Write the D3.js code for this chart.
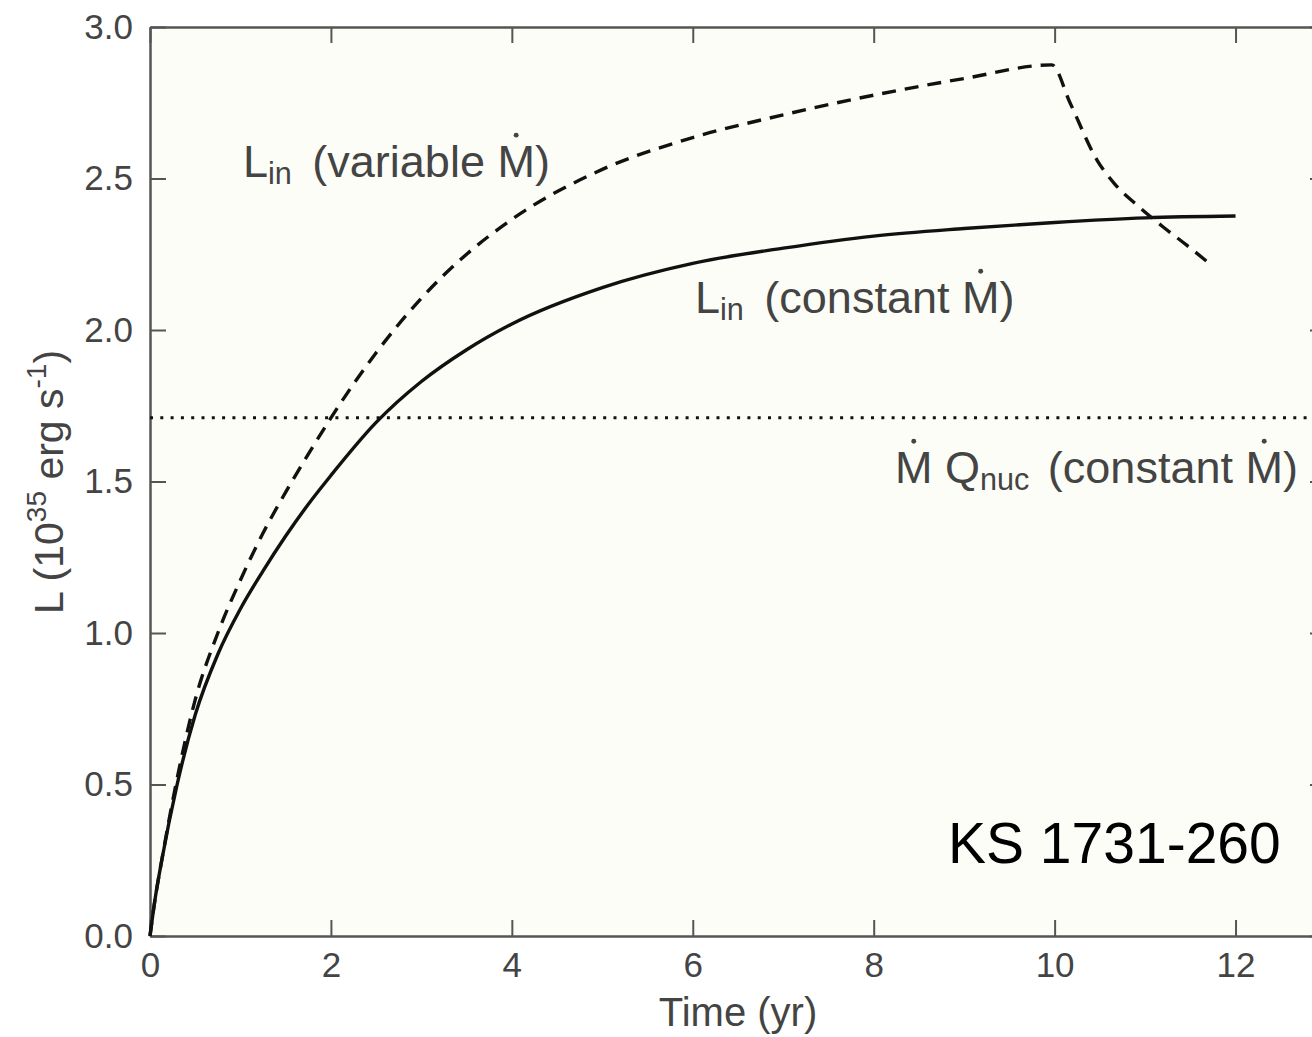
<!DOCTYPE html>
<html>
<head>
<meta charset="utf-8">
<script src="https://cdn.jsdelivr.net/npm/d3@7"></script>
<style>
  body { margin: 0; background: #fff; }
  svg { display: block; font-family: "Liberation Sans", Arial, Helvetica, sans-serif; }
</style>
</head>
<body>
<svg id="chart" width="1312" height="1037"></svg>
<script>
// values (time in yr, L in 1e35 erg/s)
const timeConst = [0, 0.05, 0.13, 0.3, 0.5, 0.75, 1.0, 1.25, 1.5, 1.75, 2.0, 2.5, 3.0, 3.5, 4, 5, 6, 7, 8, 9, 10, 11, 12];
const lumConst  = [0, 0.11, 0.25, 0.5, 0.73, 0.93, 1.08, 1.205, 1.32, 1.425, 1.52, 1.695, 1.83, 1.935, 2.02, 2.14, 2.22, 2.27, 2.31, 2.335, 2.355, 2.37, 2.376];

const timeVar = [0, 0.05, 0.13, 0.3, 0.5, 0.75, 1.0, 1.25, 1.5, 1.75, 2.0, 2.5, 3.0, 3.5, 4, 5, 6, 7, 8, 9, 9.97, 10.17, 10.47, 10.67, 10.92, 11.2, 11.46, 11.75];
const lumVar  = [0, 0.11, 0.25, 0.52, 0.78, 1.0, 1.175, 1.33, 1.465, 1.59, 1.71, 1.925, 2.105, 2.25, 2.365, 2.53, 2.635, 2.71, 2.775, 2.83, 2.875, 2.75, 2.56, 2.48, 2.41, 2.34, 2.28, 2.21];

const nucLevel = 1.71;
const xTicks = [0, 2, 4, 6, 8, 10, 12];
const yTicks = [0, 0.5, 1.0, 1.5, 2.0, 2.5, 3.0];

const svg = d3.select("#chart");
const plotL = 150, plotR = 1326, plotT = 27, plotB = 936;
const axisColor = "#555";
const textColor = "#444";

const x = d3.scaleLinear().domain([0, 13]).range([plotL, plotR]);
const y = d3.scaleLinear().domain([0, 3]).range([plotB, plotT]);

// plot background
svg.append("rect")
  .attr("x", plotL).attr("y", plotT)
  .attr("width", plotR - plotL).attr("height", plotB - plotT)
  .attr("fill", "#fdfdf7");

function styleAxis(g, showText) {
  g.select(".domain").attr("stroke", axisColor).attr("stroke-width", 2.5);
  g.selectAll(".tick line").attr("stroke", axisColor).attr("stroke-width", 2);
  g.selectAll(".tick text")
    .attr("fill", textColor)
    .style("font-size", "35px")
    .style("font-family", '"Liberation Sans", Arial, sans-serif')
    .style("display", showText ? null : "none");
}

svg.append("g")
  .attr("transform", `translate(0,${plotB})`)
  .call(d3.axisBottom(x).tickValues(xTicks).tickSizeInner(-16).tickSizeOuter(0).tickPadding(16).tickFormat(d3.format("d")))
  .call(g => styleAxis(g, true));

svg.append("g")
  .attr("transform", `translate(0,${plotT})`)
  .call(d3.axisTop(x).tickValues(xTicks).tickSizeInner(-16).tickSizeOuter(0))
  .call(g => styleAxis(g, false));

svg.append("g")
  .attr("transform", `translate(${plotL},0)`)
  .call(d3.axisLeft(y).tickValues(yTicks).tickSizeInner(-16).tickSizeOuter(0).tickPadding(17).tickFormat(d3.format(".1f")))
  .call(g => styleAxis(g, true));

svg.append("g")
  .attr("transform", `translate(${plotR},0)`)
  .call(d3.axisRight(y).tickValues(yTicks).tickSizeInner(-16).tickSizeOuter(0))
  .call(g => styleAxis(g, false));

// horizontal Mdot Qnuc level
svg.append("line")
  .attr("x1", x(0)).attr("x2", x(13))
  .attr("y1", y(nucLevel)).attr("y2", y(nucLevel))
  .attr("stroke", "#111").attr("stroke-width", 3)
  .attr("stroke-dasharray", "3,7.3");

const line = d3.line()
  .x(d => x(d[0]))
  .y(d => y(d[1]))
  .curve(d3.curveMonotoneX);

svg.append("path")
  .datum(d3.zip(timeConst, lumConst))
  .attr("d", line)
  .attr("fill", "none")
  .attr("stroke", "#111")
  .attr("stroke-width", 3.4);

svg.append("path")
  .datum(d3.zip(timeVar, lumVar))
  .attr("d", line)
  .attr("fill", "none")
  .attr("stroke", "#111")
  .attr("stroke-width", 3.4)
  .attr("stroke-dasharray", "14,9");

// labels with subscripts and a dot over M
function drawLabel(px, py, size, color, parts) {
  const t = svg.append("text")
    .attr("x", px).attr("y", py)
    .attr("fill", color)
    .style("font-size", size + "px");
  const dots = [];
  let idx = 0, shift = 0;
  parts.forEach(p => {
    const ts = t.append("tspan").text(p.t);
    if (p.sub) {
      ts.style("font-size", (size * 0.68) + "px").attr("dy", size * 0.15 - shift);
      shift = size * 0.15;
    } else if (shift) {
      ts.attr("dy", -shift);
      shift = 0;
    }
    if (p.dx) ts.attr("dx", p.dx);
    if (p.dot) dots.push(idx);
    idx += p.t.length;
  });
  const node = t.node();
  dots.forEach(i => {
    const box = node.getExtentOfChar(i);
    svg.append("circle")
      .attr("cx", box.x + box.width / 2)
      .attr("cy", py - size * 0.93)
      .attr("r", size * 0.055)
      .attr("fill", color);
  });
}

drawLabel(243, 177, 45, textColor, [
  {t: "L"}, {t: "in", sub: true}, {t: " (variable ", dx: 8}, {t: "M", dot: true}, {t: ")"}
]);
drawLabel(695, 313, 45, textColor, [
  {t: "L"}, {t: "in", sub: true}, {t: " (constant ", dx: 8}, {t: "M", dot: true}, {t: ")"}
]);
drawLabel(895, 483, 45, textColor, [
  {t: "M", dot: true}, {t: " Q"}, {t: "nuc", sub: true}, {t: " (constant ", dx: 6}, {t: "M", dot: true}, {t: ")"}
]);

svg.append("text")
  .attr("x", 948).attr("y", 863)
  .attr("fill", "#000")
  .style("font-size", "57px")
  .text("KS 1731-260");

// axis titles
svg.append("text")
  .attr("x", 738).attr("y", 1026)
  .attr("text-anchor", "middle")
  .attr("fill", textColor)
  .style("font-size", "40px")
  .text("Time (yr)");

const yt = svg.append("text")
  .attr("transform", "translate(63,482) rotate(-90)")
  .attr("text-anchor", "middle")
  .attr("fill", textColor)
  .style("font-size", "41px");
yt.append("tspan").text("L (10");
yt.append("tspan").text("35").style("font-size", "28px").attr("dy", -17);
yt.append("tspan").text(" erg s").attr("dy", 17);
yt.append("tspan").text("-1").style("font-size", "28px").attr("dy", -17);
yt.append("tspan").text(")").attr("dy", 17);
</script>
</body>
</html>
